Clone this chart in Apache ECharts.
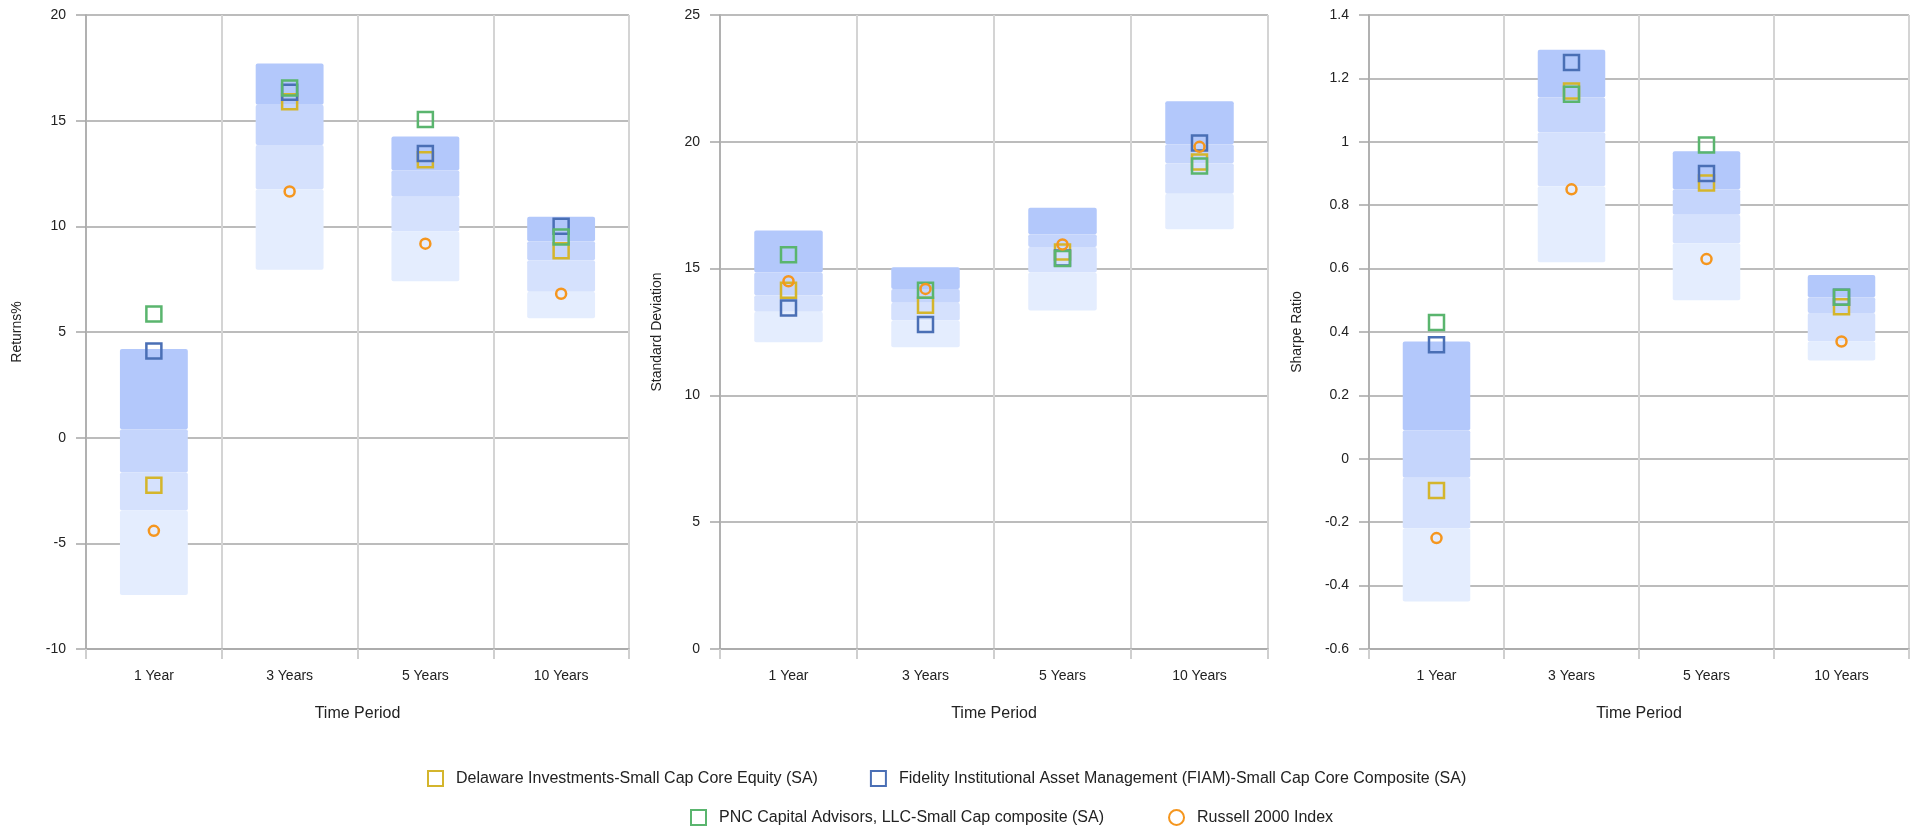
<!DOCTYPE html>
<html>
<head>
<meta charset="utf-8">
<script src="https://cdn.jsdelivr.net/npm/echarts@6/dist/echarts.min.js"></script>
<style>
html,body{margin:0;padding:0;background:#fff;}
#chart{width:1918px;height:827px;}
</style>
</head>
<body>
<div id="chart"></div>
<script>
// ---- categories ----
var categories = ['1 Year', '3 Years', '5 Years', '10 Years'];

// ---- series names ----
var nameDelaware = 'Delaware Investments-Small Cap Core Equity (SA)';
var nameFidelity = 'Fidelity Institutional Asset Management (FIAM)-Small Cap Core Composite (SA)';
var namePNC = 'PNC Capital Advisors, LLC-Small Cap composite (SA)';
var nameRussell = 'Russell 2000 Index';

// ---- Returns% universe bands (top, 25th, median, 75th, bottom) ----
var retMax = [4.2, 17.7, 14.25, 10.45];
var retQ1 = [0.4, 15.75, 12.65, 9.3];
var retMed = [-1.65, 13.85, 11.4, 8.4];
var retQ3 = [-3.45, 11.75, 9.75, 6.9];
var retMin = [-7.45, 7.95, 7.4, 5.65];

// ---- Standard Deviation bands ----
var sdMax = [16.5, 15.05, 17.4, 21.6];
var sdQ1 = [14.85, 14.2, 16.35, 19.9];
var sdMed = [13.95, 13.65, 15.85, 19.15];
var sdQ3 = [13.3, 12.95, 14.85, 17.95];
var sdMin = [12.1, 11.9, 13.35, 16.55];

// ---- Sharpe Ratio bands ----
var shMax = [0.37, 1.29, 0.97, 0.58];
var shQ1 = [0.09, 1.14, 0.85, 0.51];
var shMed = [-0.06, 1.03, 0.77, 0.46];
var shQ3 = [-0.22, 0.86, 0.68, 0.37];
var shMin = [-0.45, 0.62, 0.5, 0.31];

// ---- Returns% points ----
var retDelaware = [-2.25, 15.9, 13.15, 8.85];
var retFidelity = [4.1, 16.35, 13.45, 10.0];
var retPNC = [5.85, 16.55, 15.05, 9.5];
var retRussell = [-4.41, 11.65, 9.18, 6.81];

// ---- Standard Deviation points ----
var sdDelaware = [14.15, 13.55, 15.65, 19.2];
var sdFidelity = [13.45, 12.8, 15.42, 19.95];
var sdPNC = [15.55, 14.15, 15.4, 19.05];
var sdRussell = [14.5, 14.2, 15.95, 19.8];

// ---- Sharpe Ratio points ----
var shDelaware = [-0.1, 1.16, 0.87, 0.48];
var shFidelity = [0.36, 1.25, 0.9, 0.51];
var shPNC = [0.43, 1.15, 0.99, 0.51];
var shRussell = [-0.25, 0.85, 0.63, 0.37];

// ---- axis settings ----
var yTitles = ['Returns%', 'Standard Deviation', 'Sharpe Ratio'];
var yMins = [-10, 0, -0.6];
var yMaxs = [20, 25, 1.4];
var yIntervals = [5, 5, 0.2];

var FONT = "'Liberation Sans', Arial, sans-serif";
var bandColors = ['#b3c8fb', '#c5d5fc', '#d5e1fd', '#e4edfe'];
var colDelaware = '#d4b52c';
var colFidelity = '#4a6fb5';
var colPNC = '#5ab56e';
var colRussell = '#f5961e';

var grids = [
  {left: 86, top: 15, width: 543, height: 634},
  {left: 720, top: 15, width: 548, height: 634},
  {left: 1369, top: 15, width: 540, height: 634}
];
var yNameGaps = [62, 56, 65];

var bandSets = [
  [retMax, retQ1, retMed, retQ3, retMin],
  [sdMax, sdQ1, sdMed, sdQ3, sdMin],
  [shMax, shQ1, shMed, shQ3, shMin]
];
var pointSets = [
  [retDelaware, retFidelity, retPNC, retRussell],
  [sdDelaware, sdFidelity, sdPNC, sdRussell],
  [shDelaware, shFidelity, shPNC, shRussell]
];
var pointNames = [nameDelaware, nameFidelity, namePNC, nameRussell];
var pointColors = [colDelaware, colFidelity, colPNC, colRussell];
var pointSymbols = ['rect', 'rect', 'rect', 'circle'];
var pointSizes = [15, 15, 15, 10];

function renderBand(params, api) {
  var cat = api.value(0);
  var hi = api.value(1);
  var lo = api.value(2);
  var p1 = api.coord([cat, hi]);
  var p2 = api.coord([cat, lo]);
  var w = api.size([1, 0])[0] * 0.5;
  return {
    type: 'rect',
    shape: {x: p1[0] - w / 2, y: p1[1], width: w, height: p2[1] - p1[1], r: 2},
    style: {fill: api.visual('color')}
  };
}

var xAxes = [], yAxes = [], series = [];
for (var g = 0; g < 3; g++) {
  xAxes.push({
    type: 'category', gridIndex: g, data: categories, boundaryGap: true,
    name: 'Time Period', nameLocation: 'middle', nameGap: 57,
    nameTextStyle: {fontFamily: FONT, fontSize: 16, color: '#222'},
    axisLine: {show: true, onZero: false, lineStyle: {color: '#a6a6a6', width: 1.5}},
    axisTick: {show: true, length: 10, lineStyle: {color: '#cfcfcf', width: 2}},
    axisLabel: {fontFamily: FONT, fontSize: 14, color: '#222', margin: 20},
    splitLine: {show: true, lineStyle: {color: '#d4d4d4', width: 2}}
  });
  yAxes.push({
    type: 'value', gridIndex: g, min: yMins[g], max: yMaxs[g], interval: yIntervals[g],
    name: yTitles[g], nameLocation: 'middle', nameGap: yNameGaps[g],
    nameTextStyle: {fontFamily: FONT, fontSize: 14, color: '#222'},
    axisLine: {show: true, onZero: false, lineStyle: {color: '#a6a6a6', width: 1.5}},
    axisTick: {show: true, length: 10, lineStyle: {color: '#a6a6a6', width: 1.5}},
    axisLabel: {fontFamily: FONT, fontSize: 14, color: '#222', margin: 20},
    splitLine: {show: true, lineStyle: {color: '#a6a6a6', width: 1.5}}
  });
  var b = bandSets[g];
  for (var k = 0; k < 4; k++) {
    var data = [];
    for (var c = 0; c < categories.length; c++) {
      data.push([c, b[k][c], b[k + 1][c]]);
    }
    series.push({
      type: 'custom', name: 'band' + k + '_' + g,
      xAxisIndex: g, yAxisIndex: g,
      renderItem: renderBand,
      itemStyle: {color: bandColors[k]},
      encode: {x: 0, y: [1, 2]},
      data: data, z: 1, silent: true
    });
  }
  var p = pointSets[g];
  for (var s = 0; s < 4; s++) {
    series.push({
      type: 'scatter', name: pointNames[s],
      xAxisIndex: g, yAxisIndex: g,
      symbol: pointSymbols[s], symbolSize: pointSizes[s],
      itemStyle: {color: 'rgba(0,0,0,0)', borderColor: pointColors[s], borderWidth: 2.5, opacity: 1},
      data: p[s], z: 5 + s
    });
  }
}

var legendCommon = {
  orient: 'horizontal', itemWidth: 15, itemHeight: 15, padding: 0,
  textStyle: {fontFamily: FONT, fontSize: 16, color: '#222', padding: [0, 0, 0, 8]},
  selectedMode: false
};
var legends = [
  Object.assign({}, legendCommon, {left: 427, top: 770, itemGap: 52, data: [nameDelaware, nameFidelity]}),
  Object.assign({}, legendCommon, {left: 690, top: 809, itemGap: 64, data: [namePNC, nameRussell]})
];

var chart = echarts.init(document.getElementById('chart'), null, {renderer: 'canvas'});
chart.setOption({
  animation: false,
  backgroundColor: '#ffffff',
  grid: grids,
  xAxis: xAxes,
  yAxis: yAxes,
  legend: legends,
  series: series
});
</script>
</body>
</html>
